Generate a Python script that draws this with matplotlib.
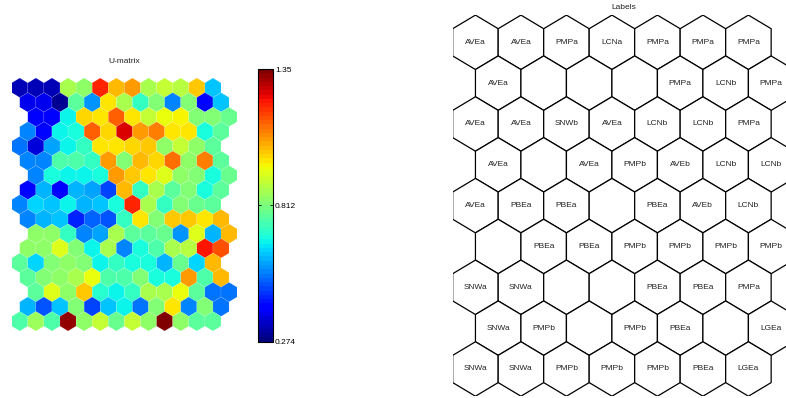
import matplotlib
matplotlib.use("Agg")
import matplotlib.pyplot as plt
import numpy as np
from matplotlib.collections import PolyCollection

plt.rcParams["font.family"] = ["Liberation Sans", "DejaVu Sans"]

# U-matrix values (17 rows x 13 cols)
umat = np.array([
    [0.33, 0.34, 0.33, 0.877, 0.834, 1.210, 1.038, 1.081, 0.877, 0.909, 0.887, 1.016, 0.618],
    [0.382, 0.380, 0.296, 0.769, 0.575, 0.995, 0.866, 0.715, 0.823, 0.543, 0.812, 0.414, 0.618],
    [0.392, 0.395, 0.661, 1.006, 0.995, 1.135, 0.995, 0.909, 0.947, 0.973, 0.823, 0.812, 0.780],
    [0.554, 0.425, 0.672, 0.683, 1.146, 1.006, 1.253, 1.081, 1.103, 0.995, 0.984, 0.683, 0.769],
    [0.532, 0.371, 0.586, 0.661, 0.726, 0.984, 0.995, 1.006, 1.016, 0.844, 0.909, 0.834, 0.769],
    [0.543, 0.545, 0.747, 0.750, 0.726, 1.070, 0.812, 1.038, 1.006, 1.124, 0.844, 1.113, 0.769],
    [0.554, 0.678, 0.661, 0.664, 0.694, 1.070, 1.016, 0.995, 0.941, 0.834, 0.823, 0.678, 0.780],
    [0.425, 0.597, 0.414, 0.597, 0.586, 0.489, 1.038, 0.726, 0.877, 0.769, 0.812, 0.683, 0.769],
    [0.554, 0.640, 0.618, 0.672, 0.608, 0.620, 0.678, 1.199, 0.877, 0.726, 0.812, 0.780, 0.769],
    [0.554, 0.597, 0.618, 0.446, 0.521, 0.500, 0.726, 0.984, 0.812, 1.027, 1.027, 0.995, 1.038],
    [0.834, 0.834, 0.726, 0.554, 0.586, 0.866, 0.769, 0.769, 0.790, 0.565, 0.930, 0.608, 1.038],
    [0.844, 0.834, 0.930, 0.823, 0.672, 0.877, 0.554, 0.683, 0.747, 0.866, 0.887, 1.216, 1.156],
    [0.769, 0.640, 0.812, 0.834, 0.812, 0.661, 0.726, 0.683, 0.694, 0.597, 0.780, 0.640, 1.038],
    [0.769, 0.812, 0.834, 0.866, 0.947, 0.758, 0.747, 0.812, 0.683, 0.678, 1.081, 0.758, 1.038],
    [0.769, 0.930, 0.844, 1.016, 0.704, 0.661, 0.715, 0.877, 0.866, 0.947, 0.769, 0.532, 0.532],
    [0.597, 0.500, 0.618, 0.823, 0.489, 0.618, 0.672, 0.532, 0.823, 0.995, 0.554, 0.823, 0.532],
    [0.758, 0.855, 0.758, 1.318, 0.834, 0.898, 0.790, 0.898, 0.844, 1.350, 0.834, 0.769, 0.769],
])
umat_min = 0.274
umat_max = 1.35
cbar_ticks = [0.274, 0.812, 1.35]
cbar_ticklabels = ["0.274", "0.812", "1.35"]

# Label of each map unit (9 rows x 7 cols), "" = no hit
labels = [
    ["AVEa", "AVEa", "PMPa", "LCNa", "PMPa", "PMPa", "PMPa"],
    ["AVEa", "", "", "", "PMPa", "LCNb", "PMPa"],
    ["AVEa", "AVEa", "SNWb", "AVEa", "LCNb", "LCNb", "PMPa"],
    ["AVEa", "", "AVEa", "PMPb", "AVEb", "LCNb", "LCNb"],
    ["AVEa", "PBEa", "PBEa", "", "PBEa", "AVEb", "LCNb"],
    ["", "PBEa", "PBEa", "PMPb", "PMPb", "PMPb", "PMPb"],
    ["SNWa", "SNWa", "", "", "PBEa", "PBEa", "PMPa"],
    ["SNWa", "PMPb", "", "PMPb", "PBEa", "", "LGEa"],
    ["SNWa", "SNWa", "PMPb", "PMPb", "PMPb", "PBEa", "LGEa"],
]

# pointy-top hexagon in (column, row) units
HEX_X = np.array([0, 0.5, 0.5, 0, -0.5, -0.5])
HEX_Y = np.array([-2 / 3, -1 / 3, 1 / 3, 2 / 3, 1 / 3, -1 / 3])


def hex_polys(centers):
    return [np.column_stack([HEX_X + cx, HEX_Y + cy]) for cx, cy in centers]


W, H = 786, 398
fig = plt.figure(figsize=(W / 100, H / 100), dpi=100)


def px_axes(x0, x1, y_top, y_bot):
    return fig.add_axes([x0 / W, (H - y_bot) / H, (x1 - x0) / W, (y_bot - y_top) / H])


# --- U-matrix -------------------------------------------------------------
cmap = plt.get_cmap("jet", 64)
nr, nc = umat.shape
# hexaU lattice: row shift cycles 0, .5, 1, .5
shift = [0, 0.5, 1, 0.5]
centers = [(c + shift[r % 4], r) for r in range(nr) for c in range(nc)]

ax1 = px_axes(11.7, 237.1, 78.0, 331.0)
pc = PolyCollection(hex_polys(centers), array=umat.ravel(), cmap=cmap,
                    edgecolors=(1, 1, 1, 0.25), linewidths=0.3)
pc.set_clim(umat_min, umat_max)
ax1.add_collection(pc)
ax1.set_xlim(-0.5, 13.5)
ax1.set_ylim(nr - 1 + 2 / 3, -2 / 3)
ax1.axis("off")
ax1.set_title("U-matrix", fontsize=6, pad=10.5, color="#222222")

cax = px_axes(258.3, 273.0, 69.0, 341.7)
cb = fig.colorbar(pc, cax=cax)
cb.set_ticks(cbar_ticks)
cb.set_ticklabels(cbar_ticklabels)
cb.outline.set_linewidth(0.8)
cax.yaxis.set_ticks_position("both")
cax.tick_params(direction="in", length=2, width=0.6, labelsize=6, pad=1.5,
                labelleft=False, labelright=True)

# --- Labels ---------------------------------------------------------------
lr, lc = len(labels), len(labels[0])
lcenters = [(c + 0.5 * (r % 2), r) for r in range(lr) for c in range(lc)]

ax2 = px_axes(452.7, 793.9, 15.1, 396.2)
hexes = PolyCollection(hex_polys(lcenters), facecolors="white",
                       edgecolors="black", linewidths=0.9)
ax2.add_collection(hexes)
for (cx, cy), name in zip(lcenters, [n for row in labels for n in row]):
    if name:
        ax2.text(cx, cy, name, ha="center", va="center", fontsize=6, color="#222222")
ax2.set_xlim(-0.5, 7.0)
ax2.set_ylim(lr - 1 + 2 / 3, -2 / 3)
ax2.axis("off")
ax2.set_title("Labels", fontsize=6, pad=4.5, color="#222222")

fig.savefig("out.png", dpi=100)
